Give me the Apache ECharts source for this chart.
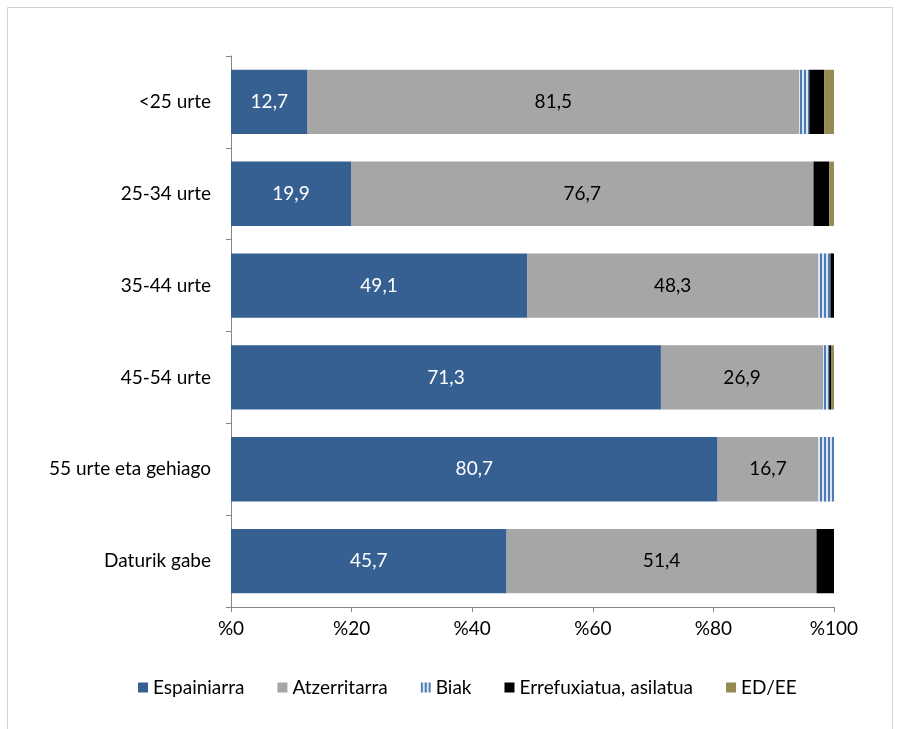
<!DOCTYPE html>
<html><head><meta charset="utf-8">
<script src="https://cdn.jsdelivr.net/npm/echarts@6/dist/echarts.min.js"></script>
<style>html,body{margin:0;padding:0;background:#fff}#c{width:900px;height:729px}</style>
</head><body><div id="c"></div>
<script>
const categories = ['<25 urte','25-34 urte','35-44 urte','45-54 urte','55 urte eta gehiago','Daturik gabe'];
const espainiarra = [12.7, 19.9, 49.1, 71.3, 80.7, 45.7];
const atzerritarra = [81.5, 76.7, 48.3, 26.9, 16.7, 51.4];
const biak = [1.7, 0, 2.0, 1.0, 2.6, 0];
const errefuxiatua = [2.5, 2.6, 0.6, 0.3, 0, 2.9];
const edee = [1.6, 0.8, 0, 0.5, 0, 0];
const xTicks = [0, 20, 40, 60, 80, 100];

const font = 'Lato, "Open Sans", sans-serif';
const fs = 19;
const chart = echarts.init(document.getElementById('c'));
const lbl = (color) => ({show:true, position:'inside', color, fontFamily:font, fontSize:fs,
  formatter: p => p.value.toFixed(1).replace('.', ',')});
chart.setOption({
  animation:false,
  graphic:[{type:'rect', shape:{x:7.5,y:7.5,width:885,height:740}, style:{fill:'none',stroke:'#d0d0d0',lineWidth:1}, silent:true}],
  grid:{left:231, right:66, top:56, bottom:122},
  legend:{bottom:27, left:133, itemWidth:10, itemHeight:10, itemGap:33,
    textStyle:{fontFamily:font, fontSize:fs, color:'#000'}, icon:'rect'},
  xAxis:{type:'value', min:xTicks[0], max:xTicks[xTicks.length-1], interval:20,
    axisLine:{show:true, lineStyle:{color:'#868686'}}, axisTick:{show:true, length:5, lineStyle:{color:'#868686'}},
    splitLine:{show:false},
    axisLabel:{formatter:v=>'%'+v, color:'#000', fontFamily:font, fontSize:fs, margin:12}},
  yAxis:{type:'category', data:categories, inverse:true,
    axisLine:{show:true, lineStyle:{color:'#868686'}}, axisTick:{show:true, length:5, lineStyle:{color:'#868686'}},
    axisLabel:{color:'#000', fontFamily:font, fontSize:fs, margin:20}},
  series:[
    {name:'Espainiarra', type:'bar', stack:'a', barWidth:'70%', data:espainiarra, itemStyle:{color:'#376092'}, label:lbl('#fff')},
    {name:'Atzerritarra', type:'bar', stack:'a', data:atzerritarra, itemStyle:{color:'#a6a6a6'}, label:lbl('#000')},
    {name:'Biak', type:'bar', stack:'a', data:biak, itemStyle:{color:'#dce6f2',
      decal:{symbol:'rect', symbolSize:1, color:'#4f7bb5', dashArrayX:[2,2], dashArrayY:[4,0], rotation:0}}},
    {name:'Errefuxiatua, asilatua', type:'bar', stack:'a', data:errefuxiatua, itemStyle:{color:'#000000'}},
    {name:'ED/EE', type:'bar', stack:'a', data:edee, itemStyle:{color:'#948a54'}}
  ]
});
</script></body></html>
